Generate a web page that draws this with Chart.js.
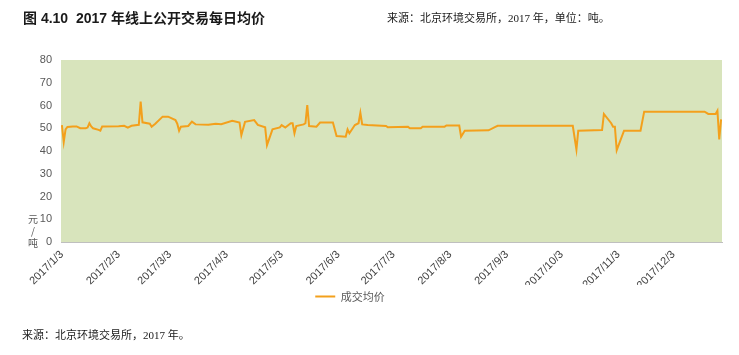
<!DOCTYPE html>
<html>
<head>
<meta charset="utf-8">
<title>2017 年线上公开交易每日均价</title>
<script src="https://cdn.jsdelivr.net/npm/chart.js@4/dist/chart.umd.min.js"></script>
<style>
  html, body { margin: 0; padding: 0; background: #ffffff; }
  #wrap { position: relative; width: 739px; height: 355px; overflow: hidden; }
  #chart { position: absolute; left: 0; top: 0; }
  .txt { position: absolute; white-space: pre; line-height: 1; }
  #title { left: 23px; top: 7px; font: bold 14px "Liberation Sans", "Noto Sans CJK SC", sans-serif; color: #1a1a1a; }
  #source { left: 387px; top: 9px; font: 11px "Liberation Serif", "Noto Sans CJK SC", serif; color: #1a1a1a; }
  #foot { left: 22px; top: 326px; font: 11px "Liberation Serif", "Noto Sans CJK SC", serif; color: #1a1a1a; }
  #unit { left: 27px; top: 213px; width: 12px; text-align: center; font: 10px "Noto Sans CJK SC", sans-serif; color: #595959; line-height: 12px; white-space: normal; }
</style>
</head>
<body>
<div id="wrap">
  <canvas id="chart" width="739" height="355"></canvas>
  <div class="txt" id="title">图 4.10  2017 年线上公开交易每日均价</div>
  <div class="txt" id="source">来源：北京环境交易所，2017 年，单位：吨。</div>
  <div class="txt" id="unit">元<br>/<br>吨</div>
  <div class="txt" id="foot">来源：北京环境交易所，2017 年。</div>
</div>
<script>
// Trading dates (month/day, 2017) and the daily average price on each, 元/吨
const tradeDates = [
  "1/3","1/4","1/5","1/6","1/9","1/11","1/13","1/16","1/17","1/18","1/19","1/20","1/23","1/24","1/25","1/26",
  "2/3","2/6","2/8","2/10","2/14","2/15","2/16","2/20","2/21","2/23","2/27",
  "3/2","3/6","3/7","3/8","3/9","3/13","3/15","3/17","3/24","3/28","3/31",
  "4/6","4/10","4/11","4/13","4/18","4/20","4/24","4/25","4/28",
  "5/2","5/3","5/5","5/8","5/9","5/10","5/11","5/15","5/16","5/17","5/18","5/22","5/24","5/31",
  "6/2","6/7","6/8","6/9","6/12","6/14","6/15","6/16","6/19","6/29","6/30",
  "7/11","7/12","7/18","7/19","7/31",
  "8/1","8/8","8/9","8/11","8/24","8/28","8/29",
  "10/9","10/11","10/12","10/25","10/26","10/30","10/31",
  "11/1","11/2","11/6","11/15","11/17",
  "12/20","12/22","12/26","12/27","12/28","12/29"
];
const avgPrice = [
  51.4, 44.0, 49.5, 50.6, 50.8, 50.8, 50.0, 50.0, 50.3, 52.2, 50.8, 50.0, 49.3, 48.9, 50.8, 50.8,
  50.9, 51.1, 50.3, 51.1, 51.5, 61.7, 52.6, 52.0, 50.7, 52.0, 55.1,
  55.1, 53.6, 52.0, 48.9, 50.7, 51.0, 52.9, 51.7, 51.5, 52.0, 51.8,
  53.3, 52.5, 47.0, 52.8, 53.6, 51.5, 50.4, 42.6, 49.5,
  50.4, 51.4, 50.3, 52.2, 52.2, 47.8, 51.0, 51.7, 52.2, 60.2, 51.0, 50.7, 52.5, 52.5,
  46.6, 46.3, 49.5, 47.8, 51.4, 52.2, 56.8, 51.7, 51.4, 51.0, 50.4,
  50.7, 50.0, 50.0, 50.7, 50.7,
  51.2, 51.2, 46.3, 48.9, 49.1, 50.7, 51.1,
  51.1, 40.7, 48.9, 49.2, 56.3, 52.2, 50.7,
  50.7, 40.4, 48.9, 48.9, 57.3,
  57.3, 56.3, 56.3, 57.7, 45.1, 53.9
];
// Date axis labels, one per month
const monthTicks = [
  "2017/1/3","2017/2/3","2017/3/3","2017/4/3","2017/5/3","2017/6/3",
  "2017/7/3","2017/8/3","2017/9/3","2017/10/3","2017/11/3","2017/12/3"
];
const seriesName = "成交均价";

// day number within 2017 (Jan 1 = 0)
function dayOfYear(m, d) {
  return (Date.UTC(2017, m - 1, d) - Date.UTC(2017, 0, 1)) / 86400000;
}
const points = tradeDates.map((s, i) => {
  const [m, d] = s.split("/").map(Number);
  return { x: dayOfYear(m, d), y: avgPrice[i] };
});
const tickPos = monthTicks.map(s => {
  const p = s.split("/").map(Number);
  return dayOfYear(p[1], p[2]);
});
const tickText = {};
tickPos.forEach((v, i) => { tickText[v] = monthTicks[i]; });

// pale green fill behind the plot area
const plotBackground = {
  id: "plotBackground",
  beforeDraw(chart) {
    const a = chart.chartArea, c = chart.ctx;
    c.save();
    c.fillStyle = "#d8e4bc";
    c.fillRect(a.left, a.top, a.right - a.left, a.bottom - a.top);
    c.restore();
  }
};

// centre the legend under the plot area rather than the whole canvas
const legendShift = {
  id: "legendShift",
  afterLayout(chart) {
    const lg = chart.legend;
    if (!lg) return;
    const dx = -11;
    lg.left += dx;
    lg.right += dx;
  }
};

new Chart(document.getElementById("chart"), {
  type: "line",
  data: {
    datasets: [{
      label: seriesName,
      data: points,
      borderColor: "#f3a01c",
      backgroundColor: "#f3a01c",
      borderWidth: 2,
      pointRadius: 0,
      tension: 0
    }]
  },
  options: {
    responsive: false,
    animation: false,
    layout: { padding: { top: 60, left: 0, right: 17, bottom: 43 } },
    plugins: {
      legend: {
        position: "bottom",
        labels: {
          usePointStyle: true,
          pointStyle: "line",
          pointStyleWidth: 20,
          padding: 6,
          color: "#595959",
          font: { family: "'Noto Sans CJK SC', sans-serif", size: 11 }
        }
      },
      tooltip: { enabled: false }
    },
    scales: {
      x: {
        type: "linear",
        min: tickPos[0] - 0.5,
        max: dayOfYear(12, 29) + 0.5,
        afterBuildTicks(scale) { scale.ticks = tickPos.map(v => ({ value: v })); },
        afterFit(scale) { scale.height = 43; },
        grid: { display: false, drawTicks: false },
        border: { display: true, color: "#bfbfbf", width: 1 },
        ticks: {
          autoSkip: false,
          minRotation: 45,
          maxRotation: 45,
          padding: 6,
          color: "#404040",
          font: { family: "'Liberation Sans', sans-serif", size: 11 },
          callback: v => tickText[v] || ""
        }
      },
      y: {
        min: 0,
        max: 80,
        afterFit(scale) { scale.width = 61; },
        grid: { display: false, drawTicks: false },
        border: { display: false },
        ticks: {
          stepSize: 10,
          padding: 9,
          color: "#595959",
          font: { family: "'Liberation Sans', sans-serif", size: 11 }
        }
      }
    }
  },
  plugins: [plotBackground, legendShift]
});
</script>
</body>
</html>
